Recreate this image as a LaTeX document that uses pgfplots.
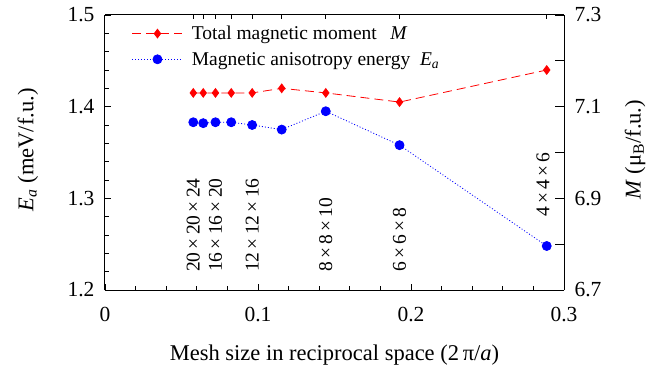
\documentclass[border=0pt]{standalone}
\usepackage{fontspec}
\setmainfont{Liberation Serif}
\usepackage{pgfplots}
\pgfplotsset{compat=1.18}
\newcommand\ft{\fontsize{21.5}{25}\selectfont}
\newcommand\fl{\fontsize{22.5}{27}\selectfont}
\newcommand\fg{\fontsize{19.5}{23}\selectfont}
\definecolor{mred}{RGB}{255,0,0}
\definecolor{mblue}{RGB}{0,0,255}
\begin{document}
\begin{tikzpicture}
\useasboundingbox (-105pt,-76pt) rectangle (563pt,290pt);
% left axis: E_a
\begin{axis}[
  scale only axis, width=459pt, height=275pt,
  xmin=0, xmax=0.3, ymin=1.2, ymax=1.5,
  axis x line*=bottom, axis y line*=left,
  axis line style={-, line width=1pt},
  xtick={0,0.1,0.2,0.3}, minor x tick num=4,
  ytick={1.2,1.3,1.4,1.5}, minor y tick num=4,
  tick align=inside, major tick length=6pt, minor tick length=4pt,
  every tick/.style={black, line width=0.8pt},
  /pgf/number format/assume math mode=true,
  /pgf/number format/fixed,
  ticklabel style={font=\ft},
  xticklabel style={yshift=-14pt},
  yticklabel style={xshift=-7pt},
  xlabel={Mesh size in reciprocal space (2\,π/\textit{a})},
  xlabel style={font=\fl, at={(axis description cs:0.5,-0.236)}, anchor=center},
  ylabel={\textit{E}\textsubscript{\textit{a}} (meV/f.u.)},
  ylabel style={font=\fl, at={(axis description cs:-0.168,0.51)}, anchor=center},
  clip=false,
]
\addplot[mblue, line width=0.8pt, dash pattern=on 1pt off 2pt, mark=*, mark size=4.5pt, mark options={solid, fill=mblue, draw=mblue}]
  coordinates {(0.0577,1.383) (0.0642,1.382) (0.0722,1.383) (0.0825,1.383) (0.0962,1.380) (0.1155,1.375) (0.1443,1.395) (0.1925,1.358) (0.2887,1.248)};
\begin{scope}[every node/.style={font=\fg, rotate=90, anchor=west, inner sep=0pt}]
\node at (axis cs:0.0577,1.2196) {20\,×\,20\,×\,24};
\node at (axis cs:0.0722,1.2196) {16\,×\,16\,×\,20};
\node at (axis cs:0.0962,1.2196) {12\,×\,12\,×\,16};
\node at (axis cs:0.1443,1.2196) {8\,×\,8\,×\,10};
\node at (axis cs:0.1925,1.2196) {6\,×\,6\,×\,8};
\node at (axis cs:0.2862,1.2796) {4\,×\,4\,×\,6};
\end{scope}
\end{axis}
% top ticks
\begin{axis}[
  scale only axis, width=459pt, height=275pt,
  xmin=0, xmax=0.3, ymin=0, ymax=1,
  axis x line*=top, hide y axis,
  axis line style={-, line width=1pt},
  xtick={0.0577,0.0642,0.0722,0.0825,0.0962,0.1155,0.1443,0.1925,0.2887},
  xticklabels={}, minor x tick num=0,
  tick align=inside, major tick length=4pt,
  every tick/.style={black, line width=0.8pt},
]
\end{axis}
% right axis: M
\begin{axis}[
  scale only axis, width=459pt, height=275pt,
  xmin=0, xmax=0.3, ymin=6.7, ymax=7.3,
  axis y line*=right, hide x axis,
  axis line style={-, line width=1pt},
  ytick={6.7,6.8,6.9,7.0,7.1,7.2,7.3},
  yticklabels={6.7,,6.9,,7.1,,7.3},
  tick align=inside, major tick length=9pt,
  every tick/.style={black, line width=0.8pt},
  ticklabel style={font=\ft},
  yticklabel style={xshift=7pt},
  ylabel={\textit{M} (μ\textsubscript{B}/f.u.)},
  ylabel style={font=\fl, at={(axis description cs:1.155,0.51)}, anchor=center},
  legend style={font=\fg, draw=none, fill=none, at={(0.052,0.975)}, anchor=north west, row sep=7pt},
  legend cell align=left,
  legend image code/.code={\draw[mark repeat=2,mark phase=2,#1] plot coordinates {(0pt,0pt) (25pt,0pt) (50pt,0pt)}; \path (57pt,0pt);},
  clip=false,
]
\addplot[mred, line width=0.8pt, dash pattern=on 9pt off 5pt, mark=diamond*, mark size=4.3pt, mark options={solid, fill=mred, draw=mred}]
  coordinates {(0.0577,7.13) (0.0642,7.13) (0.0722,7.13) (0.0825,7.13) (0.0962,7.13) (0.1155,7.14) (0.1443,7.13) (0.1925,7.11) (0.2887,7.18)};
\addlegendentry{Total magnetic moment\hspace{0.7em}\textit{M}}
\addlegendimage{mblue, line width=0.8pt, dash pattern=on 1pt off 2pt, mark=*, mark size=4.5pt, mark options={solid, fill=mblue, draw=mblue}}
\addlegendentry{Magnetic anisotropy energy\hspace{0.5em}\textit{E}\textsubscript{\textit{a}}}
\end{axis}
\end{tikzpicture}
\end{document}
